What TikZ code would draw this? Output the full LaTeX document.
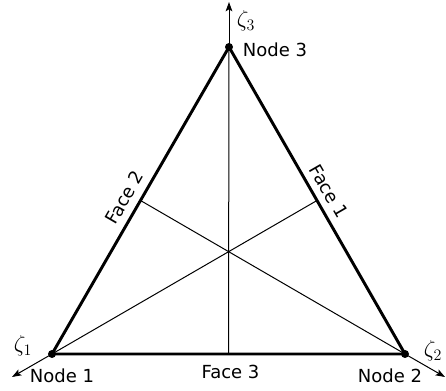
\documentclass[tikz,border=0pt]{standalone}
\usepackage{fontspec}
\setmainfont{DejaVu Sans}
\usepackage{tikz}
\usetikzlibrary{arrows.meta}
\usetikzlibrary{calc}
\tikzset{
  % thin lines through the centre
  median/.style={line width=0.75pt, draw=black},
  % the axes, continued from the medians
  axis/.style={line width=0.75pt, -{Stealth[length=7pt,width=5pt,inset=1.5pt]}},
  face/.style={line width=2.2pt, line join=miter},
  lbl/.style={font=\fontsize{13.5}{16}\selectfont, inner sep=0pt},
  zlbl/.style={font=\fontsize{18}{20}\selectfont, inner sep=0pt},
}

\begin{document}
\begin{tikzpicture}[x=0.75pt,y=0.75pt]
    \useasboundingbox (-52,-37) rectangle (394,354);
    \coordinate (n1) at (0,0);
    \coordinate (n2) at (353,0);
    \coordinate (n3) at (177,307);
    \coordinate (m1) at ($(n2)!.5!(n3)$);
    \coordinate (m2) at ($(n1)!.5!(n3)$);
    \coordinate (m3) at ($(n1)!.5!(n2)$);
    \coordinate (z1) at ($(n1)+(-40,-23)$);
    \coordinate (z2) at ($(n2)+(40,-23)$);
    \coordinate (z3) at ($(n3)+(0,45)$);

    \begin{scope}
    \draw[median] (m1) -- (n1);
    \draw[median] (m2) -- (n2);
    \draw[median] (m3) -- (n3);
    \draw[axis] (n1) -- (z1);
    \draw[axis] (n2) -- (z2);
    \draw[axis] (n3) -- (z3);
    \end{scope}

    \draw[face] (n1) -- (n2) -- (n3) -- cycle;

    \begin{scope}[radius=4]
    \fill (n1) circle;
    \fill (n2) circle;
    \fill (n3) circle;
    \end{scope}

    \node[lbl] (t1) at ($(n1)+(10,-22)$) {Node 1};
    \node[lbl] (t2) at ($(n2)+(-15,-22)$) {Node 2};
    \node[lbl] (t3) at ($(n3)+(46,-3)$) {Node 3};
    \node[lbl] (f3) at ($(m3)+(2,-18)$) {Face 3};
    \node[lbl,rotate=-60] (f1) at ($(m1)+(12,9)$) {Face 1};
    \node[lbl,rotate=60] (f2) at ($(m2)+(-16,3)$) {Face 2};

    \node[zlbl] (zl1) at ($(n1)+(-29,8)$) {$\zeta_1$};
    \node[zlbl] (zl2) at ($(n2)+(28,3)$) {$\zeta_2$};
    \node[zlbl] (zl3) at ($(n3)+(17,26)$) {$\zeta_3$};
\end{tikzpicture}
\end{document}
